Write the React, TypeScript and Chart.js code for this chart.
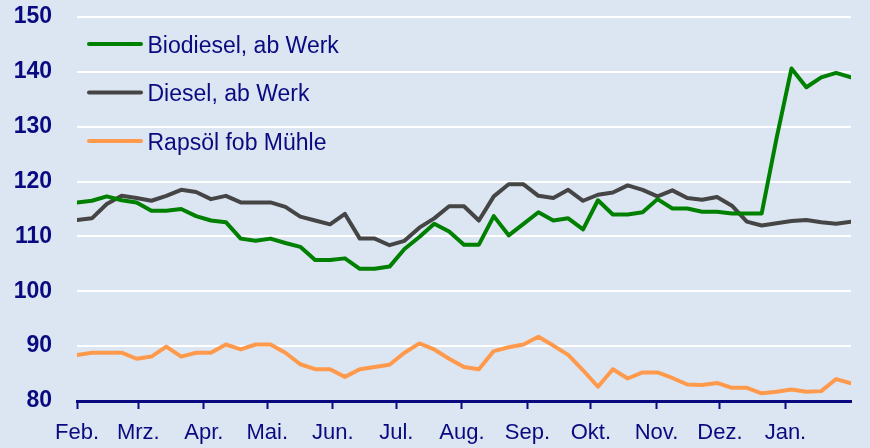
import React, { useEffect, useRef } from "react";
import { Chart, registerables } from "chart.js";

Chart.register(...registerables);

// ---- data ----
const monthLabels = ["Feb.", "Mrz.", "Apr.", "Mai.", "Jun.", "Jul.", "Aug.", "Sep.", "Okt.", "Nov.", "Dez.", "Jan."];
// day offset of each month start from 1 Feb (leap year), axis spans 366 days
const monthStartDays = [0, 29, 60, 90, 121, 151, 182, 213, 243, 274, 304, 335];
const yearDays = 366;
const weekCount = 52; // 53 weekly quotations, index 0..52

const seriesLabels = ["Biodiesel, ab Werk", "Diesel, ab Werk", "Rapsöl fob Mühle"];

const biodiesel = [
  116.2, 116.5, 117.3, 116.6, 116.2, 114.7, 114.7, 115.0, 113.7, 112.9,
  112.6, 109.6, 109.2, 109.6, 108.8, 108.1, 105.7, 105.7, 106.0, 104.1,
  104.1, 104.5, 107.7, 109.9, 112.3, 110.9, 108.5, 108.5, 113.7, 110.2,
  112.3, 114.4, 112.9, 113.3, 111.3, 116.6, 114.0, 114.0, 114.4, 116.8,
  115.1, 115.1, 114.5, 114.5, 114.2, 114.2, 114.2, 127.9, 140.6, 137.2,
  139.0, 139.8, 139.0,
];

const diesel = [
  113.0, 113.3, 115.9, 117.4, 117.0, 116.5, 117.4, 118.5, 118.1, 116.8,
  117.4, 116.2, 116.2, 116.2, 115.4, 113.6, 112.9, 112.2, 114.1, 109.6,
  109.6, 108.4, 109.2, 111.6, 113.3, 115.5, 115.5, 112.9, 117.3, 119.5,
  119.5, 117.4, 117.0, 118.5, 116.5, 117.6, 118.0, 119.3, 118.5, 117.3,
  118.4, 117.0, 116.7, 117.2, 115.6, 112.7, 112.0, 112.4, 112.8, 113.0,
  112.6, 112.3, 112.7,
];

const rapsoel = [
  88.4, 88.8, 88.8, 88.8, 87.7, 88.1, 89.9, 88.1, 88.8, 88.8,
  90.3, 89.4, 90.3, 90.3, 88.8, 86.7, 85.8, 85.8, 84.4, 85.8,
  86.2, 86.6, 88.8, 90.5, 89.4, 87.7, 86.2, 85.8, 89.1, 89.8,
  90.3, 91.7, 90.1, 88.4, 85.6, 82.6, 85.8, 84.1, 85.2, 85.2,
  84.2, 83.0, 82.9, 83.3, 82.4, 82.4, 81.4, 81.7, 82.1, 81.7,
  81.8, 84.0, 83.2,
];

const yMin = 80;
const yMax = 150;
const yStep = 10;

// ---- styles ----
const NAVY = "#0a0a80";
const BG = "#dce6f2";
const FONT = '"Liberation Sans", Arial, sans-serif';
const colors = ["#008000", "#454545", "#ff9a4d"];

const toPoints = (arr: number[]) => arr.map((v, i) => ({ x: i, y: v }));

const backgroundPlugin = {
  id: "bg",
  beforeDraw(chart: any) {
    const ctx = chart.ctx;
    ctx.save();
    ctx.fillStyle = BG;
    ctx.fillRect(0, 0, chart.width, chart.height);
    ctx.restore();
  },
};

const inlineLegendPlugin = {
  id: "inlineLegend",
  afterDraw(chart: any) {
    const ctx = chart.ctx;
    const area = chart.chartArea;
    chart.data.datasets.forEach((ds: any, i: number) => {
      const y = area.top + 27 + i * 48.5;
      const x0 = area.left + 12;
      ctx.save();
      ctx.strokeStyle = ds.borderColor;
      ctx.lineWidth = 4;
      ctx.lineCap = "round";
      ctx.beginPath();
      ctx.moveTo(x0, y);
      ctx.lineTo(x0 + 52, y);
      ctx.stroke();
      ctx.fillStyle = NAVY;
      ctx.font = `23px ${FONT}`;
      ctx.textBaseline = "alphabetic";
      ctx.textAlign = "left";
      ctx.fillText(ds.label, x0 + 58.5, y + 8.5);
      ctx.restore();
    });
  },
};

export default function App() {
  const canvasRef = useRef<HTMLCanvasElement | null>(null);

  useEffect(() => {
    document.body.style.margin = "0";
    const canvas = canvasRef.current;
    if (!canvas) return;
    const monthPositions = monthStartDays.map((d) => (d * weekCount) / yearDays);
    const chart = new Chart(canvas, {
      type: "line",
      data: {
        datasets: [biodiesel, diesel, rapsoel].map((arr, i) => ({
          label: seriesLabels[i],
          data: toPoints(arr),
          borderColor: colors[i],
          backgroundColor: colors[i],
          borderWidth: 4,
          pointRadius: 0,
          tension: 0,
          fill: false,
          borderJoinStyle: "round" as const,
          borderCapStyle: "round" as const,
        })),
      },
      options: {
        animation: false,
        responsive: false,
        maintainAspectRatio: false,
        events: [],
        layout: { padding: { top: 17, right: 19, left: 0, bottom: 0 } },
        plugins: {
          legend: { display: false },
          tooltip: { enabled: false },
          title: { display: false },
        },
        scales: {
          x: {
            type: "linear",
            min: 0,
            max: weekCount,
            afterBuildTicks: (scale: any) => {
              scale.ticks = monthPositions.map((v) => ({ value: v }));
            },
            afterFit: (scale: any) => {
              scale.height = 47;
              scale.paddingLeft = 0;
              scale.paddingRight = 0;
            },
            ticks: {
              autoSkip: false,
              maxRotation: 0,
              minRotation: 0,
              padding: 11,
              color: NAVY,
              font: { family: FONT, size: 22 },
              callback: (_v: any, i: number) => monthLabels[i],
            },
            grid: {
              drawOnChartArea: false,
              drawTicks: true,
              tickLength: 8,
              tickWidth: 2,
              tickColor: NAVY,
            },
            border: { display: true, color: NAVY, width: 3 },
          },
          y: {
            min: yMin,
            max: yMax,
            afterFit: (scale: any) => {
              scale.width = 77;
              scale.paddingTop = 0;
              scale.paddingBottom = 0;
            },
            ticks: {
              stepSize: yStep,
              padding: 25,
              color: NAVY,
              font: { family: FONT, size: 23, weight: "bold" },
            },
            grid: { color: "#ffffff", lineWidth: 2, drawTicks: false },
            border: { display: false },
          },
        },
      },
      plugins: [backgroundPlugin, inlineLegendPlugin],
    } as any);
    return () => chart.destroy();
  }, []);

  return (
    <div style={{ width: 870, height: 448, background: BG }}>
      <canvas ref={canvasRef} width={870} height={448} style={{ display: "block" }} />
    </div>
  );
}
